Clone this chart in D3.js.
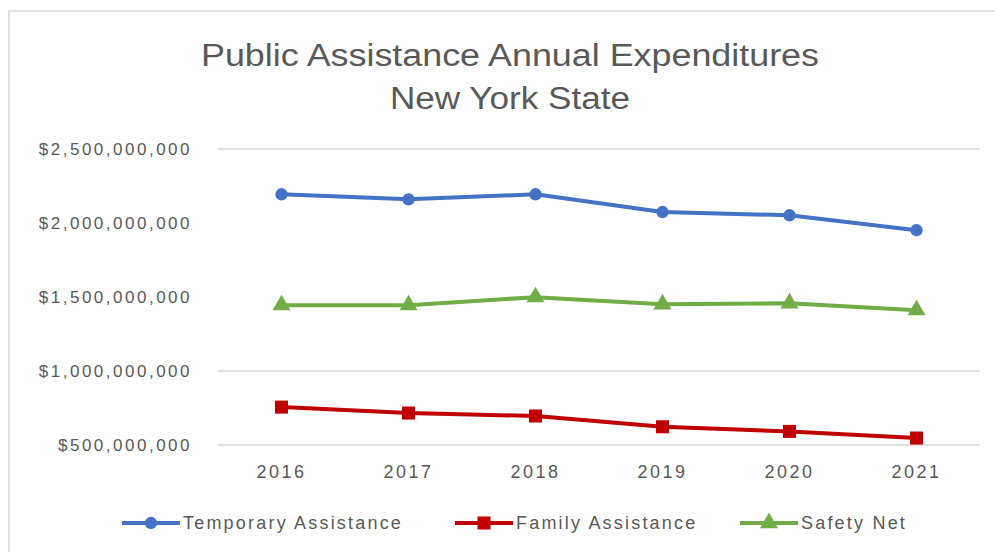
<!DOCTYPE html>
<html>
<head>
<meta charset="utf-8">
<script src="https://cdn.jsdelivr.net/npm/d3@7"></script>
<style>
  body { margin: 0; background: #fff; }
  text { font-family: "Liberation Sans", "DejaVu Sans", sans-serif; fill: #595959; }
</style>
</head>
<body>
<svg id="chart" width="995" height="552"></svg>
<script>
// data
var years = ['2016', '2017', '2018', '2019', '2020', '2021'];
var temporary = [2194000000, 2160000000, 2194000000, 2074000000, 2052000000, 1951000000];
var family = [756000000, 716000000, 696000000, 623000000, 592000000, 547000000];
var safetyNet = [1445000000, 1445000000, 1499000000, 1451000000, 1458000000, 1411000000];
var yTicks = [500000000, 1000000000, 1500000000, 2000000000, 2500000000];
var gridTicks = [500000000, 1000000000, 2500000000]; // only these show in the picture

var series = [
  { name: 'Temporary Assistance', values: temporary, color: '#4472C4', marker: 'circle' },
  { name: 'Family Assistance', values: family, color: '#C00000', marker: 'square' },
  { name: 'Safety Net', values: safetyNet, color: '#70AD47', marker: 'triangle' }
];

var svg = d3.select('#chart');

// chart frame
svg.append('rect')
   .attr('x', 9).attr('y', 11)
   .attr('width', 1000).attr('height', 560)
   .attr('fill', 'none')
   .attr('stroke', '#d9d9d9')
   .attr('stroke-width', 1.5);

// title
var title = svg.append('g').attr('text-anchor', 'middle');
title.append('text')
   .attr('x', 510).attr('y', 66)
   .attr('font-size', 31)
   .attr('textLength', 618)
   .attr('lengthAdjust', 'spacingAndGlyphs')
   .text('Public Assistance Annual Expenditures');
title.append('text')
   .attr('x', 510).attr('y', 109)
   .attr('font-size', 31)
   .attr('textLength', 240)
   .attr('lengthAdjust', 'spacingAndGlyphs')
   .text('New York State');

// scales
var x = d3.scaleBand().domain(years).range([218, 980]);
var y = d3.scaleLinear().domain([500000000, 2500000000]).range([445, 149]);

// gridlines
svg.append('g')
   .selectAll('line')
   .data(gridTicks)
   .enter()
   .append('line')
   .attr('x1', 218).attr('x2', 980)
   .attr('y1', d => y(d)).attr('y2', d => y(d))
   .attr('stroke', '#d9d9d9')
   .attr('stroke-width', 1.5);

// y axis labels
var yAxis = svg.append('g')
   .attr('transform', 'translate(192,0)')
   .call(d3.axisLeft(y).tickValues(yTicks).tickFormat(d3.format('$,')).tickSize(0).tickPadding(0));
yAxis.select('.domain').remove();
yAxis.selectAll('text')
   .attr('font-size', 17)
   .attr('letter-spacing', 2.5)
   .style('font-family', '"Liberation Sans", sans-serif')
   .attr('fill', '#595959');

// x axis labels
var xAxis = svg.append('g')
   .attr('transform', 'translate(0,465)')
   .call(d3.axisBottom(x).tickSize(0).tickPadding(0));
xAxis.select('.domain').remove();
xAxis.selectAll('text')
   .attr('font-size', 18)
   .attr('letter-spacing', 2.5)
   .style('font-family', '"Liberation Sans", sans-serif')
   .attr('fill', '#595959');

// lines
var line = d3.line()
   .x((d, i) => x(years[i]) + x.bandwidth() / 2)
   .y(d => y(d));

var symbols = {
  circle: d3.symbol().type(d3.symbolCircle).size(120),
  square: d3.symbol().type(d3.symbolSquare).size(170),
  triangle: d3.symbol().type(d3.symbolTriangle).size(140)
};

series.forEach(function (s) {
  svg.append('path')
     .datum(s.values)
     .attr('d', line)
     .attr('fill', 'none')
     .attr('stroke', s.color)
     .attr('stroke-width', 4)
     .attr('stroke-linejoin', 'round');

  svg.append('g')
     .selectAll('path')
     .data(s.values)
     .enter()
     .append('path')
     .attr('d', symbols[s.marker])
     .attr('fill', s.color)
     .attr('transform', (d, i) => 'translate(' + (x(years[i]) + x.bandwidth() / 2) + ',' + y(d) + ')');
});

// legend
var legendX = [122, 455, 740];
var legend = svg.append('g')
   .selectAll('g')
   .data(series)
   .enter()
   .append('g')
   .attr('transform', (d, i) => 'translate(' + legendX[i] + ',523)');

legend.append('line')
   .attr('x1', 0).attr('x2', 58)
   .attr('stroke', d => d.color)
   .attr('stroke-width', 4);
legend.append('path')
   .attr('d', d => symbols[d.marker]())
   .attr('fill', d => d.color)
   .attr('transform', 'translate(29,0)');
legend.append('text')
   .attr('x', 61)
   .attr('dy', '0.35em')
   .attr('font-size', 18)
   .attr('letter-spacing', 2.2)
   .text(d => d.name);
</script>
</body>
</html>
